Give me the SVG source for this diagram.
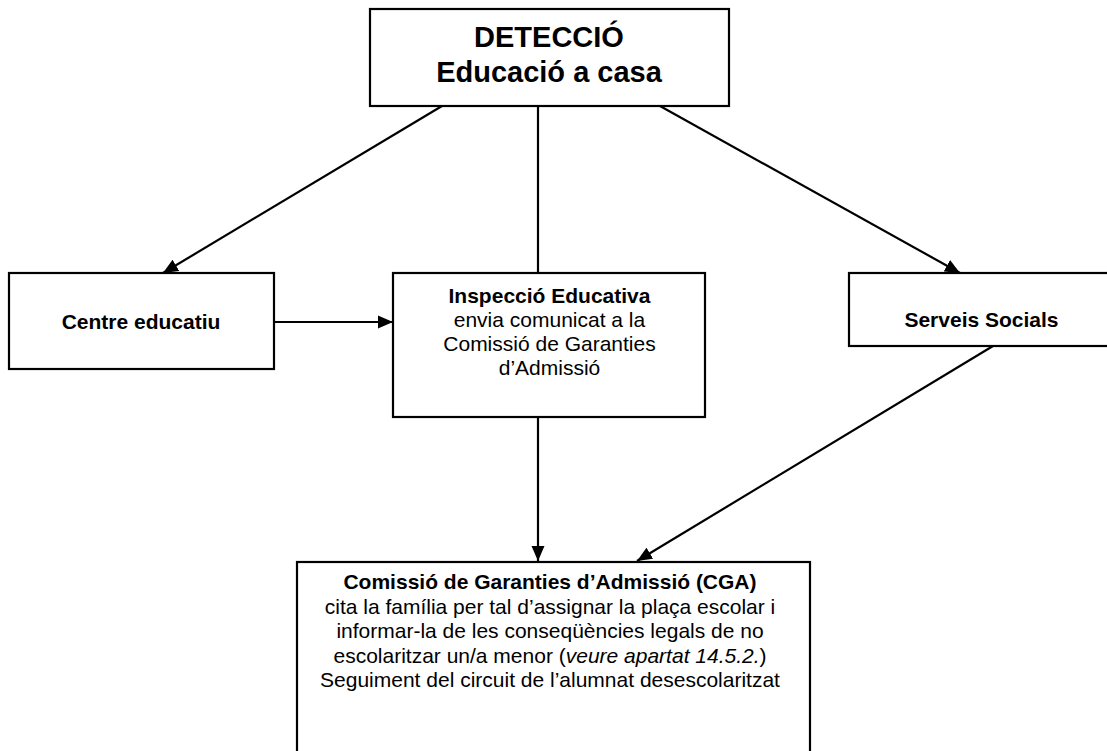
<svg xmlns="http://www.w3.org/2000/svg" width="1107" height="751" viewBox="0 0 1107 751">
<style>
.box{fill:#fff;stroke:#000;stroke-width:2.2}
.t{font-family:"Liberation Sans",Arial,sans-serif;font-size:21px;fill:#000;text-anchor:middle}
.b{font-weight:bold}
.big{font-size:29px;font-weight:bold}
.conn{stroke:#000;stroke-width:2.2;fill:none}
</style>
<defs>
<marker id="ah" markerUnits="userSpaceOnUse" markerWidth="16" markerHeight="14" refX="15" refY="7" orient="auto">
<path d="M0,0.5 L15,7 L0,13.5 z" fill="#000"/>
</marker>
</defs>
<rect width="1107" height="751" fill="#fff"/>
<g id="connectors">
<line class="conn" x1="442" y1="106" x2="163" y2="273" marker-end="url(#ah)"/>
<line class="conn" x1="538" y1="106" x2="538" y2="273"/>
<line class="conn" x1="660" y1="106" x2="960" y2="273" marker-end="url(#ah)"/>
<line class="conn" x1="274" y1="322" x2="393" y2="322" marker-end="url(#ah)"/>
<line class="conn" x1="538" y1="417" x2="538" y2="561" marker-end="url(#ah)"/>
<line class="conn" x1="993" y1="346" x2="637" y2="561" marker-end="url(#ah)"/>
</g>
<g id="deteccio">
<rect class="box" x="370" y="9" width="359" height="97"/>
<text class="t big" x="549" y="47">DETECCIÓ</text>
<text class="t big" x="549" y="82">Educació a casa</text>
</g>
<g id="centre">
<rect class="box" x="9" y="273" width="265" height="96"/>
<text class="t b" x="141" y="329">Centre educatiu</text>
</g>
<g id="inspeccio">
<rect class="box" x="393" y="273" width="312" height="144"/>
<text class="t b" x="549.5" y="303">Inspecció Educativa</text>
<text class="t" x="549.5" y="327">envia comunicat a la</text>
<text class="t" x="549.5" y="351">Comissió de Garanties</text>
<text class="t" x="549.5" y="375">d’Admissió</text>
</g>
<g id="serveis">
<rect class="box" x="849" y="273" width="265" height="73"/>
<text class="t b" x="981.5" y="327">Serveis Socials</text>
</g>
<g id="cga">
<rect class="box" x="297" y="562" width="513" height="200"/>
<text class="t b" x="550" y="589">Comissió de Garanties d’Admissió (CGA)</text>
<text class="t" x="550" y="614">cita la família per tal d’assignar la plaça escolar i</text>
<text class="t" x="550" y="638">informar-la de les conseqüències legals de no</text>
<text class="t" x="550" y="663">escolaritzar un/a menor (<tspan font-style="italic">veure apartat 14.5.2.</tspan>)</text>
<text class="t" x="550" y="687">Seguiment del circuit de l’alumnat desescolaritzat</text>
</g>
</svg>
